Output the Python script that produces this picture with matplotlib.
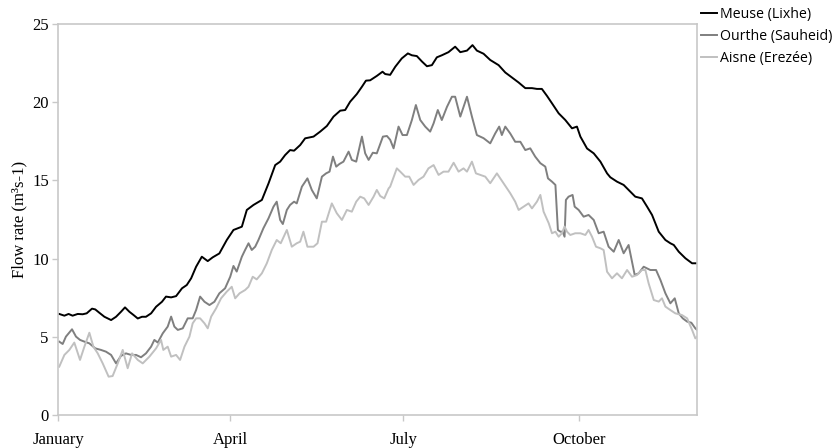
import matplotlib
matplotlib.use('Agg')
import matplotlib.pyplot as plt

# day of year (0 = 1 January) and flow rate
meuse_day = [0.4, 3.1, 5.3, 7.4, 10.1, 12.7, 14.8, 17.6, 19.3, 21.4, 24.1, 27.6, 30.2, 32.8, 34.9, 37.2,
             39.3, 41.6, 43.8, 45.9, 48.6, 51.2, 54.3, 56.4, 59.1, 61.7, 64.8, 67.3, 69.6, 72.2, 75.2, 78.3,
             80.9, 84.4, 88.3, 91.8, 96.2, 98.8, 102.3, 106.7, 110.2, 113.7, 116.3, 118.9, 121.5, 123.6,
             126.8, 129.4, 133.8, 137.3, 140.8, 144.3, 147.8, 150.4, 153.0, 156.5, 159.2, 161.3, 163.5,
             167.0, 170.0, 171.4, 174.0, 176.7, 180.1, 183.3, 185.4, 188.0, 190.7, 193.3, 195.9, 198.5,
             201.1, 204.6, 208.1, 210.8, 214.3, 217.2, 219.5, 223.0, 226.5, 230.9, 234.4, 237.9, 241.4,
             244.9, 248.4, 251.0, 253.6, 256.3, 258.9, 262.4, 265.9, 269.4, 272.0, 273.8, 277.3, 280.8,
             284.3, 287.8, 289.5, 293.0, 296.5, 299.1, 302.6, 306.1, 308.8, 311.4, 314.9, 318.4, 321.0,
             322.8, 325.4, 328.9, 332.4, 335.0]
meuse_flow = [6.46, 6.35, 6.46, 6.35, 6.46, 6.44, 6.5, 6.8, 6.75, 6.54, 6.28, 6.07, 6.28, 6.6, 6.88, 6.6,
              6.4, 6.17, 6.28, 6.28, 6.5, 6.92, 7.24, 7.57, 7.52, 7.6, 8.1, 8.31, 8.74, 9.48, 10.12, 9.84,
              10.08, 10.33, 11.19, 11.83, 12.04, 13.11, 13.43, 13.75, 14.81, 15.98, 16.2, 16.62, 16.94, 16.9,
              17.26, 17.69, 17.8, 18.12, 18.48, 19.08, 19.46, 19.5, 20.03, 20.52, 20.99, 21.38, 21.4,
              21.68, 21.95, 21.8, 21.75, 22.27, 22.8, 23.12, 23.0, 22.95, 22.6, 22.3, 22.37, 22.87,
              23.0, 23.2, 23.55, 23.2, 23.3, 23.65, 23.3, 23.1, 22.7, 22.37, 21.9, 21.58, 21.26,
              20.9, 20.9, 20.85, 20.85, 20.4, 19.93, 19.29, 18.86, 18.33, 18.44, 17.8, 17.04, 16.73,
              16.2, 15.45, 15.2, 14.92, 14.71, 14.39, 13.96, 13.85, 13.32, 12.79, 11.72, 11.19, 10.98,
              10.87, 10.44, 10.02, 9.7, 9.7]

ourthe_day = [0.4, 2.2, 3.9, 7.1, 9.2, 11.3, 13.6, 16.2, 19.3, 22.3, 24.9, 27.6, 30.2, 32.8, 35.4, 38.1,
              40.7, 43.3, 45.9, 48.6, 50.3, 52.1, 54.7, 57.3, 59.1, 60.8, 62.6, 65.2, 67.8, 70.4, 72.2,
              74.3, 76.6, 79.2, 81.8, 84.4, 87.4, 90.1, 91.8, 93.5, 96.2, 97.9, 99.7, 101.4, 103.2, 104.9,
              107.5, 110.2, 112.8, 114.5, 116.3, 117.7, 119.8, 121.5, 123.6, 125.0, 127.7, 130.6, 132.9,
              135.5, 138.2, 140.4, 142.2, 144.0, 145.7, 147.4, 149.5, 152.2, 153.9, 156.2, 159.2, 160.9,
              162.7, 164.9, 167.0, 170.2, 172.3, 174.0, 175.8, 178.4, 180.5, 182.8, 185.4, 187.5, 189.8,
              192.4, 195.0, 196.8, 199.0, 201.1, 203.8, 206.4, 208.1, 210.8, 212.5, 214.3, 216.9, 219.5,
              223.0, 226.5, 229.1, 231.2, 232.6, 234.4, 237.0, 239.6, 242.3, 244.9, 247.5, 250.1, 252.8,
              255.4, 256.8, 258.9, 260.7, 262.0, 263.3, 264.5, 265.5, 266.2, 267.6, 269.7, 270.8, 272.9,
              275.5, 278.1, 280.8, 283.4, 286.0, 288.6, 291.3, 293.9, 296.5, 299.1, 302.3, 304.4, 307.0,
              310.5, 313.5, 315.8, 318.4, 321.0, 323.3, 325.4, 327.5, 329.8, 332.0, 334.1, 335.0]
ourthe_flow = [4.69, 4.54, 5.01, 5.48, 5.01, 4.8, 4.69, 4.58, 4.26, 4.16, 4.05, 3.84, 3.3, 3.78, 3.94, 3.84,
               3.84, 3.69, 3.94, 4.37, 4.8, 4.63, 5.22, 5.65, 6.29, 5.65, 5.44, 5.54, 6.18, 6.18, 6.71,
               7.57, 7.24, 7.03, 7.24, 7.78, 8.1, 8.84, 9.53, 9.17, 10.12, 10.55, 10.98, 10.55, 10.76, 11.19,
               11.94, 12.58, 13.32, 13.64, 12.47, 12.21, 13.11, 13.43, 13.64, 13.53, 14.6, 15.13, 14.39,
               13.85, 15.24, 15.45, 15.56, 16.52, 15.88, 16.05, 16.2, 16.84, 16.31, 16.2, 17.8, 16.73,
               16.31, 16.77, 16.73, 17.8, 17.84, 17.6, 17.05, 18.44, 17.9, 17.9, 18.86, 19.82, 18.86,
               18.44, 18.12, 18.65, 19.5, 18.86, 19.7, 20.35, 20.35, 19.08, 19.7, 20.35, 19.08, 17.9,
               17.7, 17.37, 18.0, 18.44, 17.9, 18.44, 18.0, 17.47, 17.47, 16.94, 17.05, 16.52, 16.1,
               15.88, 15.13, 14.92, 14.71, 11.83, 11.72, 11.72, 11.4, 13.75, 13.96, 14.07, 13.32, 13.11,
               12.68, 12.79, 12.47, 11.62, 11.72, 10.76, 10.44, 11.19, 10.34, 10.87, 8.95, 9.06, 9.48,
               9.27, 9.27, 8.63, 7.78, 7.14, 7.46, 6.5, 6.18, 5.97, 5.9, 5.54, 5.44]

aisne_day = [0.4, 3.1, 5.7, 8.3, 11.3, 13.6, 16.2, 18.3, 20.6, 23.2, 26.3, 28.4, 31.1, 33.7, 36.3, 38.6,
             41.6, 44.2, 47.7, 51.2, 53.8, 55.0, 57.3, 59.1, 61.7, 63.8, 66.1, 68.7, 70.4, 72.2, 74.3,
             76.6, 78.3, 80.1, 82.7, 85.3, 88.3, 90.9, 92.7, 95.0, 97.9, 99.7, 101.9, 104.0, 106.7, 109.3,
             111.9, 114.5, 116.6, 119.8, 122.4, 125.0, 126.8, 128.5, 130.6, 133.8, 135.9, 138.2, 140.4,
             143.4, 146.0, 148.7, 151.3, 153.9, 156.2, 158.3, 160.4, 162.7, 165.3, 167.0, 168.8, 170.9,
             173.2, 174.0, 177.5, 179.3, 181.9, 184.0, 186.3, 188.9, 191.5, 194.1, 196.8, 199.4, 202.0,
             204.6, 207.3, 209.9, 212.5, 214.3, 216.9, 219.0, 221.3, 223.9, 226.5, 230.0, 233.5, 237.0,
             239.6, 241.4, 244.0, 246.6, 248.4, 251.0, 252.8, 254.5, 257.2, 258.9, 260.7, 262.4, 264.1,
             265.5, 266.8, 268.5, 271.1, 273.8, 276.4, 278.1, 279.9, 282.0, 284.3, 286.0, 287.8, 290.4,
             293.0, 295.6, 298.3, 300.9, 303.5, 306.1, 307.9, 309.6, 312.3, 314.9, 316.6, 318.4, 321.0,
             323.6, 327.1, 329.8, 332.4, 334.1, 335.0]
aisne_flow = [3.09, 3.84, 4.16, 4.63, 3.52, 4.37, 5.26, 4.37, 3.94, 3.3, 2.45, 2.49, 3.3, 4.16, 2.99, 3.94,
              3.52, 3.3, 3.73, 4.26, 4.8, 4.16, 4.37, 3.73, 3.84, 3.52, 4.37, 5.01, 5.86, 6.18, 6.18,
              5.86, 5.54, 6.29, 6.82, 7.46, 7.89, 8.2, 7.46, 7.78, 7.99, 8.2, 8.84, 8.67, 9.06, 9.7,
              10.55, 11.19, 10.98, 11.83, 10.76, 10.98, 11.08, 11.72, 10.76, 10.76, 10.98, 12.36, 12.36,
              13.53, 12.9, 12.47, 13.11, 13.0, 13.64, 13.96, 13.85, 13.43, 13.96, 14.39, 14.0, 13.85,
              14.49, 14.6, 15.77, 15.56, 15.24, 15.24, 14.71, 15.03, 15.24, 15.77, 15.98, 15.35, 15.56,
              15.56, 16.13, 15.56, 15.77, 15.56, 16.2, 15.45, 15.35, 15.24, 14.82, 15.45, 14.82, 14.18,
              13.64, 13.11, 13.32, 13.53, 13.21, 13.64, 14.07, 13.0, 12.26, 11.62, 11.72, 11.4, 11.62,
              12.05, 11.72, 11.51, 11.62, 11.62, 11.51, 11.83, 11.4, 10.76, 10.66, 10.55, 9.16, 8.74,
              9.06, 8.74, 9.27, 8.84, 8.95, 9.27, 9.27, 8.42, 7.35, 7.25, 7.46, 6.93, 6.71,
              6.5, 6.39, 6.18, 5.44, 4.9, 5.0]

month_pos = [0, 90, 181, 273]
month_labels = ['January', 'April', 'July', 'October']

fig = plt.figure(figsize=(8.39, 4.48), dpi=100)
ax = fig.add_axes([0.0697, 0.0737, 0.7611, 0.8727])

ax.plot(meuse_day, meuse_flow, color='#000000', lw=1.4, label='Meuse (Lixhe)')
ax.plot(ourthe_day, ourthe_flow, color='#7f7f7f', lw=1.4, label='Ourthe (Sauheid)')
ax.plot(aisne_day, aisne_flow, color='#c0c0c0', lw=1.4, label='Aisne (Erezée)')

ax.set_xlim(0, 335)
ax.set_ylim(0, 25)
ax.set_xticks(month_pos)
ax.set_xticklabels(month_labels, fontfamily='Liberation Serif', fontsize=12)
ax.set_yticks([0, 5, 10, 15, 20, 25])
ax.set_yticklabels(['0', '5', '10', '15', '20', '25'], fontfamily='Liberation Serif', fontsize=12)
ax.set_ylabel('Flow rate (m³s-1)', fontfamily='Liberation Serif', fontsize=12, labelpad=3)

for s in ax.spines.values():
    s.set_color('#c8c8c8')
    s.set_linewidth(1.2)
ax.tick_params(axis='both', colors='#c8c8c8', labelcolor='black', length=4, width=1)
ax.tick_params(axis='x', pad=8)
ax.tick_params(axis='y', pad=3)

fig.legend(loc='upper left', bbox_to_anchor=(0.836, 0.985), frameon=False,
           prop={'family': 'Open Sans', 'size': 10.2}, handlelength=1.1, handletextpad=0.2,
           labelspacing=0.5, borderaxespad=0, borderpad=0)

plt.savefig('out.png', dpi=100)
